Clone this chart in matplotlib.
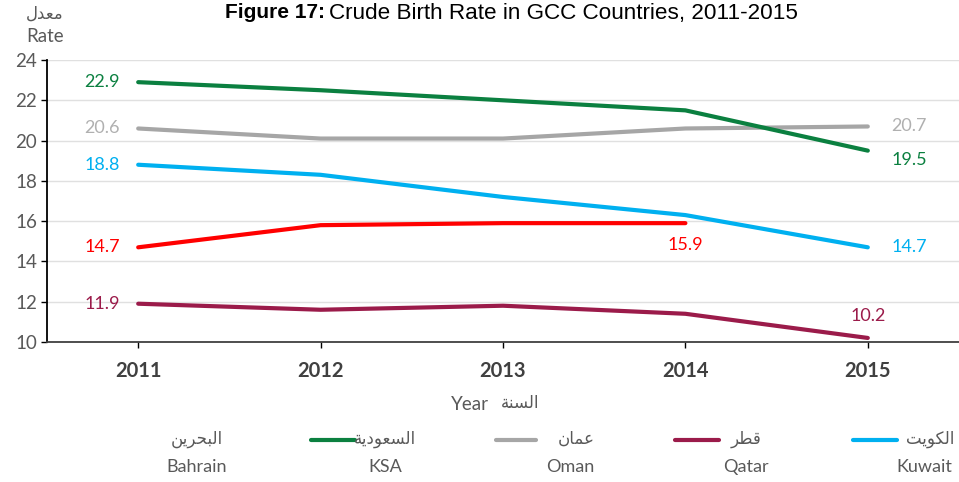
import numpy as np
import matplotlib.pyplot as plt
from matplotlib.lines import Line2D

years = ['2011', '2012', '2013', '2014', '2015']
ksa = [22.9, 22.5, 22.0, 21.5, 19.5]
oman = [20.6, 20.1, 20.1, 20.6, 20.7]
kuwait = [18.8, 18.3, 17.2, 16.3, 14.7]
bahrain = [14.7, 15.8, 15.9, 15.9, np.nan]
qatar = [11.9, 11.6, 11.8, 11.4, 10.2]

# arabic written in presentation forms, visual order (no shaping engine here)
ar_rate = '\uFEDD\uFEAA\uFECC\uFEE3'
ar_year = '\uFE94\uFEE8\uFEB4\uFEDF\uFE8D'
names_en = ['Bahrain', 'KSA', 'Oman', 'Qatar', 'Kuwait']
names_ar = ['\uFEE6\uFEF3\uFEAE\uFEA4\uFE92\uFEDF\uFE8D',
            '\uFE94\uFEF3\uFEA9\uFEEE\uFECC\uFEB4\uFEDF\uFE8D',
            '\uFEE5\uFE8E\uFEE4\uFECB',
            '\uFEAE\uFEC4\uFED7',
            '\uFE96\uFEF3\uFEEE\uFEDC\uFEDF\uFE8D']
colors = {'Bahrain': '#FF0000', 'KSA': '#0B8040', 'Oman': '#A6A6A6',
          'Qatar': '#9B1B4A', 'Kuwait': '#00B0F0'}
label_cols = {'Bahrain': '#FF0000', 'KSA': '#0B8040', 'Oman': '#B0B0B0',
              'Qatar': '#9B1B4A', 'Kuwait': '#00B0F0'}

fam = ['Lato', 'DejaVu Sans']
plt.rcParams['font.family'] = fam

fig = plt.figure(figsize=(9.59, 4.82), dpi=100)
ax = fig.add_axes([0.049, 0.2905, 0.951, 0.585])
x = np.arange(len(years))

series = {'KSA': ksa, 'Oman': oman, 'Kuwait': kuwait, 'Bahrain': bahrain, 'Qatar': qatar}
for k in ['Oman', 'KSA', 'Kuwait', 'Bahrain', 'Qatar']:
    ax.plot(x, series[k], color=colors[k], lw=3, solid_capstyle='round', zorder=3)

fs = 13
# left-side labels at 2011
for k in ['KSA', 'Oman', 'Kuwait', 'Bahrain', 'Qatar']:
    ax.text(x[0] - 0.1, series[k][0], '%.1f' % series[k][0], color=label_cols[k],
            ha='right', va='center', fontsize=fs)
# right-side labels
ax.text(x[4] + 0.13, oman[4], '%.1f' % oman[4], color=label_cols['Oman'], ha='left', va='center', fontsize=fs)
ax.text(x[4] + 0.13, ksa[4] - 0.05, '%.1f' % ksa[4], color=label_cols['KSA'], ha='left', va='top', fontsize=fs)
ax.text(x[4] + 0.13, kuwait[4], '%.1f' % kuwait[4], color=label_cols['Kuwait'], ha='left', va='center', fontsize=fs)
ax.text(x[3], bahrain[3] - 0.7, '%.1f' % bahrain[3], color=label_cols['Bahrain'], ha='center', va='top', fontsize=fs)
ax.text(x[4], qatar[4] + 0.7, '%.1f' % qatar[4], color=label_cols['Qatar'], ha='center', va='bottom', fontsize=fs)

ax.set_xlim(-0.5, 4.5)
ax.set_ylim(10, 24)
ax.set_yticks(np.arange(10, 25, 2))
ax.set_xticks(x)
ax.set_xticklabels(years, fontweight='bold', fontsize=14.5, color='#404040')
ax.tick_params(axis='y', labelsize=13.5, labelcolor='#595959', length=4, direction='out', width=1, pad=3)
ax.tick_params(axis='x', length=4, direction='out', width=1, pad=10)
ax.grid(axis='y', color='#E0E0E0', lw=1)
ax.set_axisbelow(True)
for s in ['top', 'right']:
    ax.spines[s].set_visible(False)
ax.spines['left'].set_color('black')
ax.spines['bottom'].set_color('#404040')
ax.spines['left'].set_linewidth(1.3)
ax.spines['bottom'].set_linewidth(1.3)

# title
fig.text(325 / 959, 1 - 13 / 482, 'Figure 17:', fontweight='bold', fontsize=15,
         family=['Liberation Sans'], ha='right', va='center')
fig.text(329 / 959, 1 - 13 / 482, 'Crude Birth Rate in GCC Countries, 2011-2015', fontsize=16.2,
         family=['Liberation Sans'], ha='left', va='center')

# y label
fig.text(45 / 959, 1 - 14 / 482, ar_rate, fontsize=12, color='#595959', ha='center', va='center')
fig.text(45 / 959, 1 - 37 / 482, 'Rate', fontsize=13.5, color='#595959', ha='center', va='center')

# x label
fig.text(489 / 959, 1 - 405 / 482, 'Year', fontsize=13.5, color='#595959', ha='right', va='center')
fig.text(501 / 959, 1 - 403 / 482, ar_year, fontsize=12, color='#595959', ha='left', va='center')

# legend
ar_cx = [197, 385, 576, 746, 930]
en_cx = [197, 385, 570, 746, 924]
line_x = [None, (311, 355), (496, 536), (675, 719), (853, 897)]
for i, n in enumerate(names_en):
    fig.text(ar_cx[i] / 959, 1 - 439 / 482, names_ar[i], fontsize=12, color='#595959', ha='center', va='center')
    fig.text(en_cx[i] / 959, 1 - 467 / 482, n, fontsize=13, color='#595959', ha='center', va='center')
    if line_x[i] is not None:
        fig.add_artist(Line2D([line_x[i][0] / 959, line_x[i][1] / 959], [1 - 440 / 482, 1 - 440 / 482],
                              transform=fig.transFigure, color=colors[n], lw=3, solid_capstyle='round'))

fig.savefig('out.png', dpi=100)
